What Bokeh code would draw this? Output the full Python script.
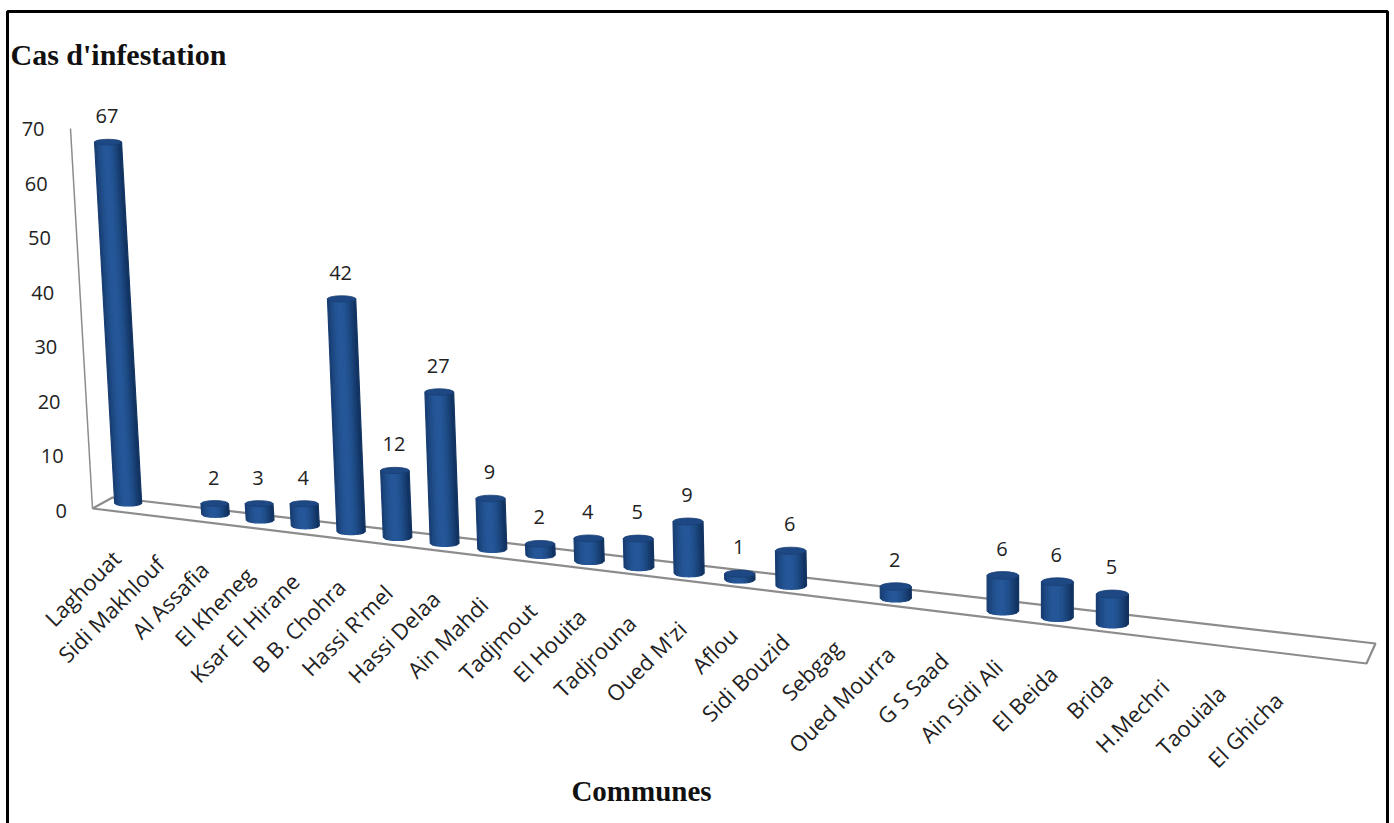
from bokeh.plotting import figure
from bokeh.models import Range1d, ColumnDataSource
from bokeh.core.properties import value
from bokeh.embed import file_html
from bokeh.resources import INLINE
import numpy as np

communes = ["Laghouat", "Sidi Makhlouf", "Al Assafia", "El Kheneg", "Ksar El Hirane",
            "B B. Chohra", "Hassi R'mel", "Hassi Delaa", "Ain Mahdi", "Tadjmout",
            "El Houita", "Tadjrouna", "Oued M'zi", "Aflou", "Sidi Bouzid", "Sebgag",
            "Oued Mourra", "G S Saad", "Ain Sidi Ali", "El Beida", "Brida",
            "H.Mechri", "Taouiala", "El Ghicha"]
cases = [67, 0, 2, 3, 4, 42, 12, 27, 9, 2, 4, 5, 9, 1, 6, 0, 2, 0, 6, 6, 5, 0, 0, 0]
axis_ticks = [0, 10, 20, 30, 40, 50, 60, 70]


# Oblique projection of the chart's floor and walls onto the page
def base_x(i):
    return 127.7 + 43.05 * i + 0.308 * i * i

def base_y(i):
    return 505.5 + 5.6 * i + 0.025 * i * i

def bar_scale(i):
    return 5.39 + 0.03 * i

def bar_width(i):
    return 27.0 + 0.25 * i

def cap_radius(i):
    return 2.8 + 0.06 * i

def lean(i):
    return min(0.0, -0.055 + 0.003 * i)


def shade(t):
    """Cylinder colour at t in [-1, 1] across the bar."""
    dark = np.array([18, 52, 98])
    light = np.array([38, 88, 154])
    a = max(0.0, 1.0 - abs(t + 0.1) ** 1.8)
    c = dark + (light - dark) * a
    return "#%02x%02x%02x" % tuple(int(v) for v in c)


p = figure(width=1394, height=823, output_backend="svg", toolbar_location=None,
           x_range=Range1d(0, 1394), y_range=Range1d(823, 0),
           min_border=0, outline_line_color=None, background_fill_color="white",
           border_fill_color="white")
p.axis.visible = False
p.grid.visible = False

# Outer frame, open at the page's lower edge
p.line([7, 7, 1387, 1387], [830, 11, 11, 830], line_color="#000000", line_width=3)

# Floor and vertical axis
AXIS = "#8c8c8c"
p.patch([92, 112, 1375, 1366], [508, 497, 643, 663], fill_color="white", line_color=AXIS, line_width=2.2)
p.line([70, 92], [128, 508], line_color=AXIS, line_width=1.5)

# Cylinders, each built from thin vertical strips
STRIPS = 12
for i, v in enumerate(cases):
    if v == 0:
        continue
    w = bar_width(i)
    e = cap_radius(i)
    bx = base_x(i)
    by = base_y(i)
    total = bar_scale(i) * v + 2 * e
    dx = lean(i) * total
    top_c = by - total + e
    bot_c = by - e
    xs, ys, colors = [], [], []
    for k in range(STRIPS):
        t0 = -1 + 2 * k / STRIPS
        t1 = -1 + 2 * (k + 1) / STRIPS
        xs.append([bx + dx + t0 * w / 2, bx + dx + t1 * w / 2, bx + t1 * w / 2, bx + t0 * w / 2])
        ys.append([top_c, top_c,
                   bot_c + e * np.sqrt(max(0, 1 - t1 * t1)),
                   bot_c + e * np.sqrt(max(0, 1 - t0 * t0))])
        colors.append(shade((t0 + t1) / 2))
    p.patches(xs, ys, fill_color=colors, line_color=colors, line_width=1.2)
    p.ellipse([bx + dx], [top_c], width=w, height=2 * e, fill_color="#1d4884", line_color="#1a3f74", line_width=0.8)

    p.text([bx + dx - 1], [by - total - 23], text=[str(v)], text_align="center", text_baseline="middle",
           text_font=value("Open Sans"), text_font_size="20px", text_color="#222222")

# Vertical axis tick labels
p.text([44 + (70 - t) * 0.32 for t in axis_ticks], [510 - t * 5.45 for t in axis_ticks],
       text=[str(t) for t in axis_ticks], text_align="right", text_baseline="middle",
       text_font=value("Open Sans"), text_font_size="20px", text_color="#222222")

# Rotated commune names
label_src = ColumnDataSource(dict(
    x=[base_x(i) - 12 + 0.4 * i for i in range(len(communes))],
    y=[base_y(i) + 48 for i in range(len(communes))],
    name=communes))
p.text("x", "y", text="name", source=label_src, angle=np.pi / 4, text_align="right", text_baseline="middle",
       text_font=value("Open Sans"), text_font_size="22px", text_color="#222222")

# Axis titles
p.text([10], [54], text=["Cas d'infestation"], text_align="left", text_baseline="middle",
       text_font=value("Liberation Serif"), text_font_style="bold", text_font_size="30px", text_color="#111111")
p.text([641], [790], text=["Communes"], text_align="center", text_baseline="middle",
       text_font=value("Liberation Serif"), text_font_style="bold", text_font_size="29px", text_color="#111111")

open("out.html", "w").write(file_html(p, INLINE))
